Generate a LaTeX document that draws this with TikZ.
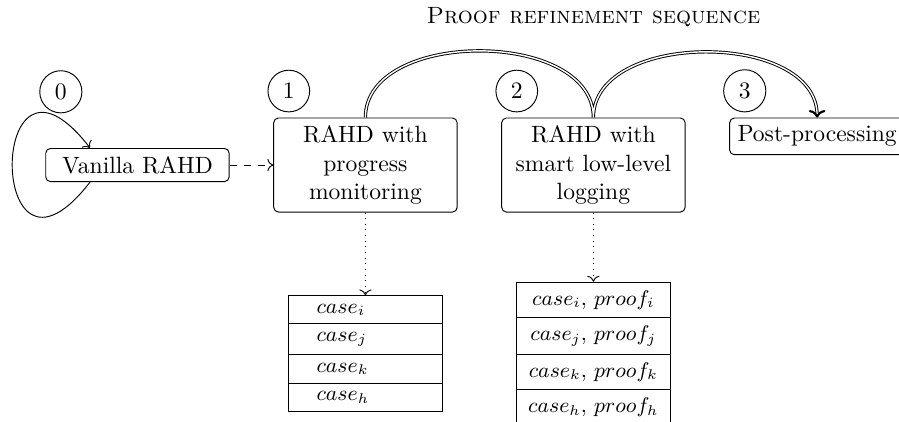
\documentclass[tikz,border=0pt]{standalone}
\usetikzlibrary{positioning, calc, arrows.meta, shapes.multipart}
\tikzset{
    box/.style={draw, rounded corners=2pt},
    wide/.style={box, text width=2.5cm, align=center},
    stage/.style={draw, circle},
    stack/.style={draw, rectangle split, rectangle split parts=4, font=\small},
}

\begin{document}
\begin{tikzpicture}
    \tikzset{node distance=0.65cm}
    \clip (-58.3pt,-108.6pt) rectangle (323pt,70pt);

    \node[wide] (v) at (0,0) {Vanilla RAHD};
    \node[wide, right=of v] (b1) {RAHD with progress monitoring};
    \node[wide, right=of b1] (b2) {RAHD with smart \mbox{low-level} logging};
    \node[box, below right=0cm and 0.65cm of b2.north east] (b3) {Post-processing};

    \node[above=1.22cm of b2] (title) {\textsc{Proof refinement sequence}};

    % stage numbers
    \node[stage, above=14.7pt of v.north west, xshift=6.6pt] (s0) {0};
    \node[stage, above=2.2pt of b1.north west, xshift=6.6pt] (s1) {1};
    \node[stage, above=2.2pt of b2.north west, xshift=6.6pt] (s2) {2};
    \node[stage, above=2.2pt of b3.north west, xshift=6.6pt] (s3) {3};

    \draw[->] ([xshift=19pt]v.south west) .. controls +(-44pt,-57pt) and +(-44pt,57pt) .. ([xshift=19pt]v.north west);
    \draw[dashed, ->] (v) -- (b1);
    \draw[double, -{To[line width=0.9pt, width=7pt, length=3.2pt]}] (b1.north) to[out=90, in=90] (b2.north) to[out=90, in=90] (b3.north);

    % logs
    \node[stack, text width=41.5pt, inner xsep=11.9pt, align=left] (t1) at ($(b1)+(0,-80pt)$)
        {$case_i$ \nodepart{two} $case_j$ \nodepart{three} $case_k$ \nodepart{four} $case_h$};
    \node[stack, text width=59pt, align=center] (t2) at ($(b2)+(0,-80pt)$)
        {$case_i$, $proof_i$ \nodepart{two} $case_j$, $proof_j$ \nodepart{three} $case_k$, $proof_k$ \nodepart{four} $case_h$, $proof_h$};
    \draw[dotted, ->] (b1) -- (t1);
    \draw[dotted, ->] (b2) -- (t2);
\end{tikzpicture}
\end{document}
